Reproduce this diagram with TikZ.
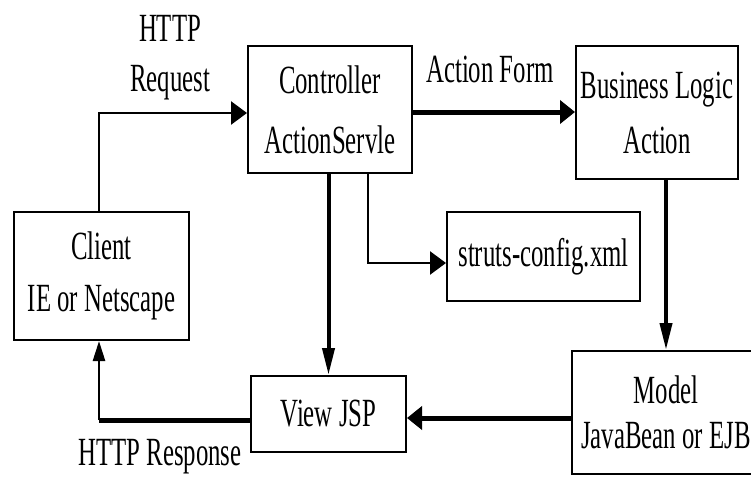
\documentclass[tikz,border=0pt]{standalone}
\usepackage{fontspec}
\setmainfont{Liberation Serif}[FakeStretch=0.62]
\usetikzlibrary{arrows.meta}
\begin{document}
\begin{tikzpicture}[x=1pt,y=-1pt,
  box/.style={draw, line width=2pt, inner sep=0pt, align=center},
  lbl/.style={inner sep=0pt, anchor=base, font=\fontsize{40}{48}\selectfont},
  thinline/.style={line width=2.5pt},
  thickv/.style={line width=4pt},
  thickh/.style={line width=5pt},
  tiphthick/.style={-{Triangle[length=15pt,width=23pt]}},
  tipvthick/.style={-{Triangle[length=27pt,width=12pt]}},
  tiphthin/.style={-{Triangle[length=16pt,width=23pt]}},
  tipvthin/.style={-{Triangle[length=20pt,width=12pt]}}]
\useasboundingbox (0,0) rectangle (751,476);
% boxes
\node[box, minimum width=164pt, minimum height=127pt, font=\fontsize{40}{60}\selectfont] (ctrl) at (330,109.5) {Controller\\ActionServle};
\node[box, minimum width=162pt, minimum height=133pt, font=\fontsize{40}{55}\selectfont] (biz) at (657,112.5) {Business Logic\\Action};
\node[box, minimum width=175pt, minimum height=128pt, font=\fontsize{40}{52}\selectfont] (client) at (101.5,276) {Client\\IE or Netscape};
\node[box, minimum width=155pt, minimum height=76pt, font=\fontsize{40}{48}\selectfont] (view) at (328.5,414) {View JSP};
\node[box, minimum width=193pt, minimum height=89pt, font=\fontsize{40}{48}\selectfont] (struts) at (543.5,256.5) {struts-config.xml};
\node[box, minimum width=188pt, minimum height=123pt, font=\fontsize{40}{45}\selectfont] (model) at (666,412.5) {Model\\JavaBean or EJB};
% labels
\node[lbl] (lhttp) at (170,42) {HTTP};
\node[lbl] (lreq) at (170,92) {Request};
\node[lbl] (lform) at (490,83) {Action Form};
\node[lbl] (lresp) at (160,465) {HTTP Response};
% connectors
\draw[thinline, tiphthin] ([xshift=-2.5pt]client.north) |- ([yshift=-3.5pt]ctrl.west);
\draw[thickh, tiphthick] ([yshift=-2.5pt]ctrl.east) -- ([yshift=-2.5pt]ctrl.east -| biz.west);
\draw[thickv, tipvthick] (ctrl.south -| view.north) -- (view.north);
\draw[thinline, tiphthin] ([xshift=38pt]ctrl.south) |- ([yshift=-6.5pt]struts.west);
\draw[thickv, tipvthick] (model.north |- biz.south) -- (model.north);
\draw[thickh, tiphthick] ([yshift=-5.5pt]model.west) -- ([yshift=-5.5pt]model.west -| view.east);
\coordinate (bend) at ([yshift=-6pt]view.west -| client.south);
\draw[thickh] ([yshift=-6pt]view.west) -- ([xshift=-2.5pt]bend);
\draw[thinline, tipvthin] ([xshift=-2.5pt]bend) -- ([xshift=-2.5pt]client.south);
\end{tikzpicture}
\end{document}
